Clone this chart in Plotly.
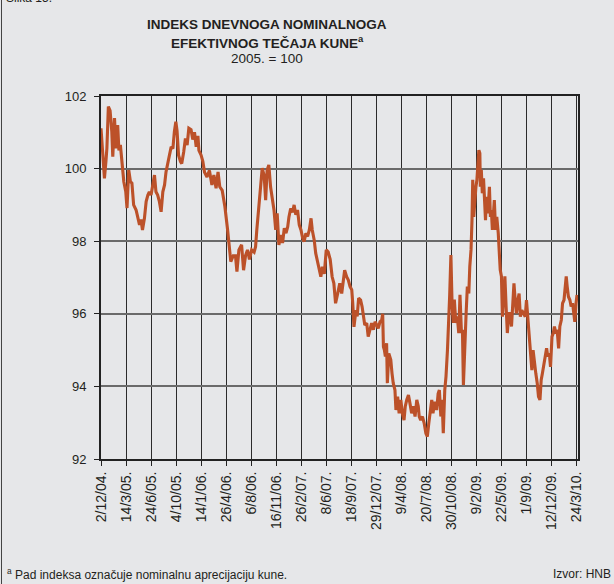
import pandas as pd
import plotly.graph_objects as go

# Tick labels on the x axis (dates, dd/m/yy.)
tick_labels = ["2/12/04.", "14/3/05.", "24/6/05.", "4/10/05.", "14/1/06.", "26/4/06.",
               "6/8/06.", "16/11/06.", "26/2/07.", "8/6/07.", "18/9/07.", "29/12/07.",
               "9/4/08.", "20/7/08.", "30/10/08.", "9/2/09.", "22/5/09.", "1/9/09.",
               "12/12/09.", "24/3/10."]

# Observation days, counted from 2 Dec 2004
day_offsets = [
    0, 3, 7, 14, 20, 24, 30, 37, 44, 48, 55, 61, 68, 73, 79, 86, 93, 101, 106, 113,
    120, 126, 133, 143, 150, 157, 163, 169, 177, 184, 191, 197, 204, 211, 218, 224, 231, 238, 245, 252,
    259, 265, 272, 279, 286, 293, 299, 305, 310, 316, 324, 329, 337, 344, 351, 358, 367, 374, 381, 388,
    395, 399, 408, 415, 422, 432, 442, 452, 460, 469, 477, 484, 494, 505, 516, 525, 529, 539, 548, 554,
    562, 573, 581, 589, 597, 605, 614, 624, 630, 635, 643, 650, 657, 665, 671, 677, 684, 691, 698, 705,
    712, 718, 725, 733, 740, 747, 754, 761, 766, 773, 781, 787, 794, 801, 808, 815, 822, 828, 835, 842,
    849, 856, 861, 869, 875, 883, 889, 896, 902, 910, 918, 926, 934, 942, 949, 956, 965, 973, 981, 987,
    993, 1001, 1008, 1015, 1022, 1026, 1031, 1039, 1044, 1050, 1058, 1064, 1069, 1075, 1083, 1089, 1096, 1103, 1110, 1117,
    1124, 1130, 1137, 1144, 1148, 1151, 1155, 1159, 1164, 1167, 1173, 1181, 1186, 1191, 1198, 1202, 1209, 1215, 1222, 1228,
    1235, 1240, 1246, 1253, 1259, 1266, 1273, 1280, 1287, 1293, 1297, 1303, 1310, 1317, 1324, 1330, 1336, 1341, 1348, 1353,
    1360, 1368, 1374, 1379, 1385, 1390, 1395, 1401, 1406, 1412, 1417, 1421, 1426, 1431, 1436, 1440, 1446, 1452, 1458, 1463,
    1469, 1473, 1477, 1483, 1488, 1493, 1499, 1503, 1508, 1512, 1515, 1519, 1523, 1528, 1532, 1536, 1540, 1544, 1546, 1550,
    1554, 1559, 1563, 1567, 1571, 1575, 1579, 1583, 1587, 1591, 1595, 1599, 1603, 1608, 1613, 1619, 1623, 1627, 1632, 1636,
    1640, 1646, 1651, 1656, 1662, 1667, 1673, 1678, 1683, 1688, 1693, 1699, 1704, 1709, 1715, 1722, 1729, 1734, 1740, 1745,
    1750, 1756, 1761, 1767, 1772, 1778, 1783, 1789, 1794, 1799, 1805, 1810, 1816, 1821, 1827, 1832, 1838, 1843, 1848, 1854,
    1859, 1865, 1870, 1876, 1881, 1887, 1892, 1896, 1900, 1905, 1911, 1916, 1922, 1926, 1931, 1936, 1940,
]

# Daily nominal effective exchange rate index (2005 = 100)
index_values = [
    101.11, 100.74, 100.50, 99.73, 100.19, 100.56, 101.71, 101.60, 101.02, 100.33, 101.39, 100.56, 101.20, 100.50, 100.65, 100.19, 99.64, 99.36, 98.91, 99.96,
    99.64, 99.60, 99.00, 98.86, 98.63, 98.45, 98.60, 98.31, 98.63, 99.09, 99.27, 99.36, 99.27, 99.55, 99.82, 99.36, 99.27, 99.09, 98.81, 99.36,
    99.55, 99.91, 100.19, 100.37, 100.60, 100.55, 101.02, 101.29, 101.04, 100.37, 100.19, 100.14, 100.46, 100.83, 100.65, 101.11, 101.07, 100.80, 101.00, 100.60,
    100.90, 100.50, 100.37, 100.20, 99.90, 99.77, 99.95, 99.55, 99.82, 99.46, 99.91, 99.50, 99.40, 98.95, 98.31, 97.76, 97.44, 97.60, 97.60, 97.16,
    97.76, 97.90, 97.20, 97.60, 97.76, 97.50, 97.76, 97.70, 97.85, 98.31, 98.95, 99.60, 100.01, 99.80, 99.13, 99.96, 100.10, 99.50, 99.23, 98.86,
    98.31, 98.77, 97.90, 98.17, 97.95, 98.36, 98.22, 98.40, 98.67, 98.90, 98.80, 99.00, 98.73, 98.86, 98.45, 98.31, 98.08, 97.99, 98.22, 98.13,
    98.31, 98.63, 98.31, 98.03, 97.67, 97.40, 97.30, 97.02, 97.30, 97.10, 97.76, 97.70, 97.50, 97.02, 96.84, 96.29, 96.57, 96.84, 96.56, 96.93,
    97.20, 97.02, 96.93, 96.75, 96.66, 96.29, 95.64, 96.10, 95.93, 96.43, 96.38, 96.20, 95.92, 95.69, 95.74, 95.37, 95.56, 95.74, 95.56, 95.78,
    95.69, 95.60, 95.78, 95.83, 96.00, 95.09, 95.00, 94.82, 95.19, 94.09, 94.91, 94.73, 94.36, 94.09, 93.90, 93.35, 93.72, 93.26, 93.63, 93.26,
    93.07, 93.45, 93.63, 93.76, 93.54, 93.26, 93.45, 93.17, 93.63, 93.45, 93.17, 93.07, 93.17, 92.99, 92.71, 92.62, 92.99, 93.26, 93.63, 93.26,
    93.58, 93.35, 93.80, 93.90, 93.17, 93.63, 92.71, 93.90, 94.27, 95.00, 95.64, 96.50, 97.62, 96.20, 95.75, 96.39, 95.75, 95.93, 95.47, 96.52,
    95.47, 95.56, 94.04, 95.37, 96.01, 96.75, 96.56, 97.30, 97.76, 98.58, 99.69, 98.67, 99.13, 99.50, 99.69, 100.05, 100.51, 100.42, 99.50, 99.96,
    99.32, 99.73, 99.22, 98.58, 99.22, 98.77, 99.04, 99.50, 98.67, 98.86, 98.31, 98.67, 99.13, 98.31, 98.67, 98.22, 97.76, 97.21, 97.03, 95.92,
    96.38, 97.03, 96.20, 95.47, 96.01, 96.01, 95.65, 96.29, 96.84, 96.38, 96.01, 96.38, 96.56, 95.92, 96.10, 96.01, 95.92, 96.38, 95.83, 95.65,
    95.09, 94.45, 95.00, 94.54, 94.36, 94.08, 93.72, 93.63, 94.18, 94.36, 94.63, 94.91, 95.05, 94.82, 94.91, 94.54, 95.37, 95.46, 95.65, 95.46,
    95.56, 95.05, 95.65, 95.83, 96.29, 96.38, 96.65, 97.03, 96.75, 96.47, 96.38, 96.20, 96.29, 96.10, 95.78, 96.29, 96.52,
]

y_ticks = [92, 94, 96, 98, 100, 102]

tick_dates = [pd.to_datetime(t.rstrip("."), format="%d/%m/%y") for t in tick_labels]
start = tick_dates[0]
dates = [start + pd.Timedelta(days=d) for d in day_offsets]

BG = "#E6E7E9"
TXT = "#231F20"
FONT = "Liberation Sans, Arial, sans-serif"

fig = go.Figure()
fig.add_trace(go.Scatter(
    x=dates, y=index_values, mode="lines",
    line=dict(color="#BC5129", width=3.1),
    hoverinfo="x+y", showlegend=False,
))

fig.update_layout(
    width=614, height=584,
    margin=dict(l=101, r=36, t=96, b=125),
    paper_bgcolor=BG, plot_bgcolor=BG,
    font=dict(family=FONT, color=TXT, size=12),
    xaxis=dict(
        type="date",
        range=[tick_dates[0], tick_dates[-1] + pd.Timedelta(days=6)],
        tickmode="array", tickvals=tick_dates, ticktext=tick_labels,
        tickangle=-90, tickfont=dict(size=14, color=TXT),
        ticks="outside", ticklen=5, tickcolor="#222", tickwidth=1,
        showgrid=True, gridcolor="#2b2b2b", gridwidth=1,
        showline=True, linecolor="#222", linewidth=2, mirror=True,
        zeroline=False,
    ),
    yaxis=dict(
        range=[92, 102], tickmode="array", tickvals=y_ticks,
        tickfont=dict(size=13, color=TXT),
        ticks="outside", ticklen=5, tickcolor="#222", tickwidth=1,
        ticklabelstandoff=5,
        showgrid=True, gridcolor="#6a6a6a", gridwidth=1.6,
        showline=True, linecolor="#222", linewidth=2, mirror=True,
        zeroline=False,
    ),
)

def py(p):
    return (459 - p) / 363.0

def px(p):
    return (p - 101) / 477.0

anns = [
    dict(text="<b>INDEKS DNEVNOGA NOMINALNOGA</b>", x=px(267), y=py(25), size=13.5),
    dict(text="<b>EFEKTIVNOG TEČAJA KUNE<sup>a</sup></b>", x=px(267), y=py(42), size=13.5),
    dict(text="2005. = 100", x=px(267), y=py(59), size=13.5),
]
for a in anns:
    fig.add_annotation(text=a["text"], x=a["x"], y=a["y"], xref="paper", yref="paper",
                       xanchor="center", yanchor="middle", showarrow=False,
                       font=dict(size=a["size"], color=TXT, family=FONT))

fig.add_annotation(text="Slika 15.", x=px(4), y=py(-2), xref="paper", yref="paper",
                   xanchor="left", yanchor="middle", showarrow=False,
                   font=dict(size=12, color=TXT, family=FONT))
fig.add_annotation(text="<sup>a</sup> Pad indeksa označuje nominalnu aprecijaciju kune.",
                   x=px(5), y=py(574), xref="paper", yref="paper",
                   xanchor="left", yanchor="middle", showarrow=False,
                   font=dict(size=12, color=TXT, family=FONT))
fig.add_annotation(text="Izvor: HNB", x=px(613), y=py(574), xref="paper", yref="paper",
                   xanchor="right", yanchor="middle", showarrow=False,
                   font=dict(size=12, color=TXT, family=FONT))

fig.add_shape(type="line", xref="paper", yref="paper",
              x0=px(1.5), x1=px(1.5), y0=py(590), y1=py(-10),
              line=dict(color="#444", width=1))

fig.write_html(
    "out.html",
    config={"displayModeBar": False},
    post_script="document.body.style.margin='0';document.body.style.padding='0';"
                "document.body.style.background='#E6E7E9';document.body.style.overflow='hidden';",
)
